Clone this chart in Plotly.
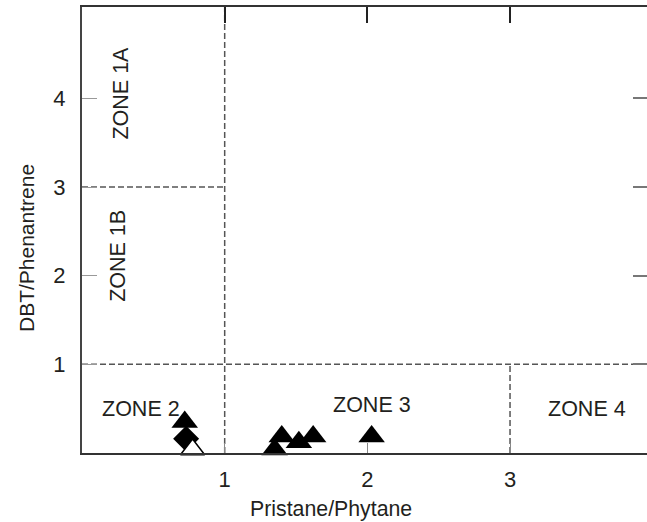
import plotly.graph_objects as go

# Sample ratios: Pristane/Phytane (x) vs DBT/Phenantrene (y)
zone2_solid_x = [0.72]
zone2_solid_y = [0.35]
zone2_diamond_x = [0.73]
zone2_diamond_y = [0.16]
zone2_open_x = [0.775]
zone2_open_y = [0.04]
zone3_x = [1.35, 1.40, 1.52, 1.62, 2.03]
zone3_y = [0.04, 0.185, 0.12, 0.185, 0.185]

# Zone boundaries (ratio values)
pr_ph_bounds = [1, 3]
dbt_ph_bounds = [1, 3]

# Zone labels
zone_names = ["ZONE 1A", "ZONE 1B", "ZONE 2", "ZONE 3", "ZONE 4"]
zone_label_x = [0.27, 0.25, 0.41, 2.03, 3.54]
zone_label_y = [4.06, 2.22, 0.50, 0.54, 0.50]
zone_label_angle = [-90, -90, 0, 0, 0]

x_ticks = [1, 2, 3]
y_ticks = [1, 2, 3, 4]
x_title = "Pristane/Phytane"
y_title = "DBT/Phenantrene"
X_MAX = 3.96
Y_MAX = 5.03

FONT = "Liberation Sans, Arial, sans-serif"
INK = "#231f20"
DASH_COLOR = "#555555"

fig = go.Figure()

common = dict(mode="markers", cliponaxis=False, showlegend=False, hoverinfo="x+y")
fig.add_trace(go.Scatter(x=zone2_solid_x, y=zone2_solid_y,
                         marker=dict(symbol="triangle-up", size=23, color="black"), **common))
fig.add_trace(go.Scatter(x=zone2_diamond_x, y=zone2_diamond_y,
                         marker=dict(symbol="diamond", size=20, color="black"), **common))
fig.add_trace(go.Scatter(x=zone3_x, y=zone3_y,
                         marker=dict(symbol="triangle-up", size=23, color="black"), **common))
fig.add_trace(go.Scatter(x=zone2_open_x, y=zone2_open_y,
                         marker=dict(symbol="triangle-up", size=21, color="white",
                                     line=dict(color="black", width=1.5)), **common))

dash = dict(color=DASH_COLOR, width=1.5, dash="6px,3px")
# Pr/Ph = 1 divider across the full height
fig.add_shape(type="line", x0=pr_ph_bounds[0], x1=pr_ph_bounds[0], y0=0, y1=Y_MAX,
              line=dash, layer="below")
# Pr/Ph = 3 divider inside the lower band
fig.add_shape(type="line", x0=pr_ph_bounds[1], x1=pr_ph_bounds[1], y0=0, y1=dbt_ph_bounds[0],
              line=dash, layer="below")
# DBT/Phen = 1 across the full width
fig.add_shape(type="line", x0=0, x1=X_MAX, y0=dbt_ph_bounds[0], y1=dbt_ph_bounds[0],
              line=dash, layer="below")
# DBT/Phen = 3 inside the left column
fig.add_shape(type="line", x0=0, x1=pr_ph_bounds[0], y0=dbt_ph_bounds[1], y1=dbt_ph_bounds[1],
              line=dash, layer="below")

for name, lx, ly, ang in zip(zone_names, zone_label_x, zone_label_y, zone_label_angle):
    fig.add_annotation(x=lx, y=ly, text=name, textangle=ang, showarrow=False,
                       font=dict(family=FONT, size=21.5, color=INK))

# Axis titles, placed as free text
fig.add_annotation(x=0.4407, y=0, xref="paper", yref="paper", yshift=-56,
                   xanchor="center", yanchor="middle", text=x_title, showarrow=False,
                   font=dict(family=FONT, size=21.3, color=INK))
fig.add_annotation(x=0, y=0.4596, xref="paper", yref="paper", xshift=-56,
                   xanchor="center", yanchor="middle", text=y_title, textangle=-90,
                   showarrow=False, font=dict(family=FONT, size=21, color=INK))

fig.update_layout(
    width=647, height=522,
    margin=dict(l=82, r=0, t=7, b=69),
    paper_bgcolor="white", plot_bgcolor="white",
    font=dict(family=FONT, size=22, color=INK),
    xaxis=dict(range=[0, X_MAX], tickvals=x_ticks, ticks="inside", ticklen=10,
               tickcolor="#888888", tickwidth=1, showgrid=False, zeroline=False,
               showline=True, linecolor="#333333", linewidth=2,
               ticklabelstandoff=6),
    xaxis2=dict(range=[0, X_MAX], overlaying="x", side="top", tickvals=x_ticks,
                ticks="inside", ticklen=16, tickcolor="#222222", tickwidth=2,
                showticklabels=False, showgrid=False, zeroline=False,
                showline=True, linecolor="#333333", linewidth=2),
    yaxis=dict(range=[0, Y_MAX], tickvals=y_ticks, ticks="inside", ticklen=15,
               tickcolor="#999999", tickwidth=1, showgrid=False, zeroline=False,
               showline=True, linecolor="#444444", linewidth=2,
               ticklabelstandoff=10),
    yaxis2=dict(range=[0, Y_MAX], overlaying="y", side="right", tickvals=y_ticks,
                ticks="inside", ticklen=14, tickcolor="#777777", tickwidth=1.5,
                showticklabels=False, showgrid=False, zeroline=False, showline=False),
)
# invisible trace so the secondary axes are drawn
fig.add_trace(go.Scatter(x=[None], y=[None], xaxis="x2", yaxis="y2", showlegend=False,
                         hoverinfo="skip"))

fig.write_html("out.html")
